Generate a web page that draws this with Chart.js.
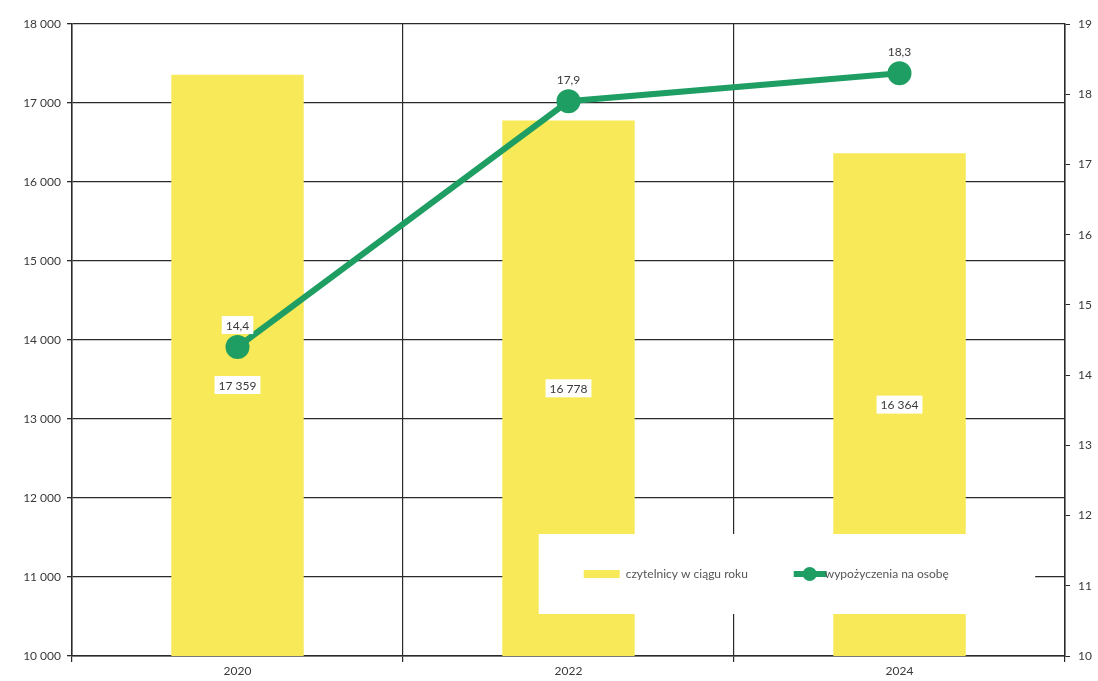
<!DOCTYPE html>
<html>
<head>
<meta charset="utf-8">
<script src="https://cdn.jsdelivr.net/npm/chart.js@4"></script>
<style>
  html, body { margin: 0; padding: 0; background: #fff; }
  #wrap { width: 1098px; height: 681px; }
</style>
</head>
<body>
<div id="wrap"><canvas id="chart" width="1098" height="681"></canvas></div>
<script>
const years = ['2020', '2022', '2024'];
const readers = [17359, 16778, 16364];
const loansPerPerson = [14.4, 17.9, 18.3];
const readersLabel = 'czytelnicy w ciągu roku';
const loansLabel = 'wypożyczenia na osobę';

const barColor = '#f7e957';
const lineColor = '#1f9e63';
const textColor = '#3a3a3a';
const fontFamily = 'Lato, "Open Sans", sans-serif';

function fmtThousands(v) {
    return String(v).replace(/\B(?=(\d{3})+(?!\d))/g, ' ');
}
function fmtComma(v) {
    return v.toFixed(1).replace('.', ',');
}

function drawBoxLabel(ctx, text, x, y, withBox) {
    ctx.font = '12px ' + fontFamily;
    const w = ctx.measureText(text).width + 8;
    const h = 18;
    if (withBox) {
        ctx.fillStyle = '#fff';
        ctx.fillRect(x - w / 2, y - h / 2, w, h);
    }
    ctx.fillStyle = textColor;
    ctx.textAlign = 'center';
    ctx.textBaseline = 'middle';
    ctx.fillText(text, x, y + 1);
}

const labelsPlugin = {
    id: 'labels',
    afterDatasetsDraw(chart) {
        const ctx = chart.ctx;
        const yScale = chart.scales.y;
        const y1Scale = chart.scales.y1;
        const xScale = chart.scales.x;
        const base = yScale.getPixelForValue(yScale.min);
        ctx.save();
        readers.forEach((v, i) => {
            const x = xScale.getPixelForValue(i);
            const top = yScale.getPixelForValue(v);
            const py = y1Scale.getPixelForValue(loansPerPerson[i]);
            let y = (top + base) / 2;
            if (Math.abs(y - py) < 30) y = py + 38;
            drawBoxLabel(ctx, fmtThousands(v), x, y, true);
        });
        loansPerPerson.forEach((v, i) => {
            const x = xScale.getPixelForValue(i);
            const py = y1Scale.getPixelForValue(v);
            drawBoxLabel(ctx, fmtComma(v), x, py - 22, true);
        });

        // legend box inside the plot area
        const a = chart.chartArea;
        const lx = a.left + (a.right - a.left) * 0.47;
        const ly = a.top + (a.bottom - a.top) * 0.807;
        const lw = (a.right - a.left) * 0.5;
        const lh = 80;
        ctx.fillStyle = '#fff';
        ctx.fillRect(lx, ly, lw, lh);
        const cy = ly + lh / 2;
        ctx.fillStyle = barColor;
        ctx.fillRect(lx + 45, cy - 4, 36, 8);
        ctx.font = '12px ' + fontFamily;
        ctx.fillStyle = '#555';
        ctx.textAlign = 'left';
        ctx.textBaseline = 'middle';
        ctx.fillText(readersLabel, lx + 87, cy);
        ctx.strokeStyle = lineColor;
        ctx.lineWidth = 6;
        ctx.beginPath();
        ctx.moveTo(lx + 255, cy);
        ctx.lineTo(lx + 288, cy);
        ctx.stroke();
        ctx.fillStyle = lineColor;
        ctx.beginPath();
        ctx.arc(lx + 271, cy, 7, 0, Math.PI * 2);
        ctx.fill();
        ctx.fillStyle = '#555';
        ctx.fillText(loansLabel, lx + 286, cy);
        ctx.restore();
    }
};

new Chart(document.getElementById('chart'), {
    data: {
        labels: years,
        datasets: [
            {
                type: 'bar',
                label: readersLabel,
                data: readers,
                backgroundColor: barColor,
                borderWidth: 0,
                categoryPercentage: 1,
                barPercentage: 0.4,
                yAxisID: 'y',
                order: 2
            },
            {
                type: 'line',
                label: loansLabel,
                data: loansPerPerson,
                borderColor: lineColor,
                backgroundColor: lineColor,
                borderWidth: 6,
                pointRadius: 9,
                pointHoverRadius: 9,
                tension: 0,
                yAxisID: 'y1',
                order: 1
            }
        ]
    },
    options: {
        responsive: false,
        animation: false,
        layout: { padding: { top: 24, left: 0, right: 0, bottom: 0 } },
        plugins: {
            legend: { display: false },
            tooltip: { enabled: false }
        },
        scales: {
            x: {
                offset: true,
                grid: {
                    offset: true,
                    color: '#2a2a2a',
                    lineWidth: 1.2,
                    tickLength: 6
                },
                border: { color: '#2a2a2a', width: 1.5 },
                ticks: {
                    color: textColor,
                    font: { family: fontFamily, size: 12 },
                    padding: 2
                },
                afterFit: s => { s.height = 25; }
            },
            y: {
                position: 'left',
                min: 10000,
                max: 18000,
                ticks: {
                    stepSize: 1000,
                    color: textColor,
                    font: { family: fontFamily, size: 12 },
                    padding: 6,
                    callback: v => fmtThousands(v)
                },
                grid: { color: '#2a2a2a', lineWidth: 1.3, tickLength: 5 },
                border: { color: '#2a2a2a', width: 1.5 },
                afterFit: s => { s.width = 72; }
            },
            y1: {
                position: 'right',
                min: 10,
                max: 19,
                ticks: {
                    stepSize: 1,
                    color: textColor,
                    font: { family: fontFamily, size: 12 },
                    padding: 8
                },
                grid: { drawOnChartArea: false, color: '#2a2a2a', tickLength: 5 },
                border: { color: '#2a2a2a', width: 1.5 },
                afterFit: s => { s.width = 33; }
            }
        }
    },
    plugins: [labelsPlugin]
});
</script>
</body>
</html>
